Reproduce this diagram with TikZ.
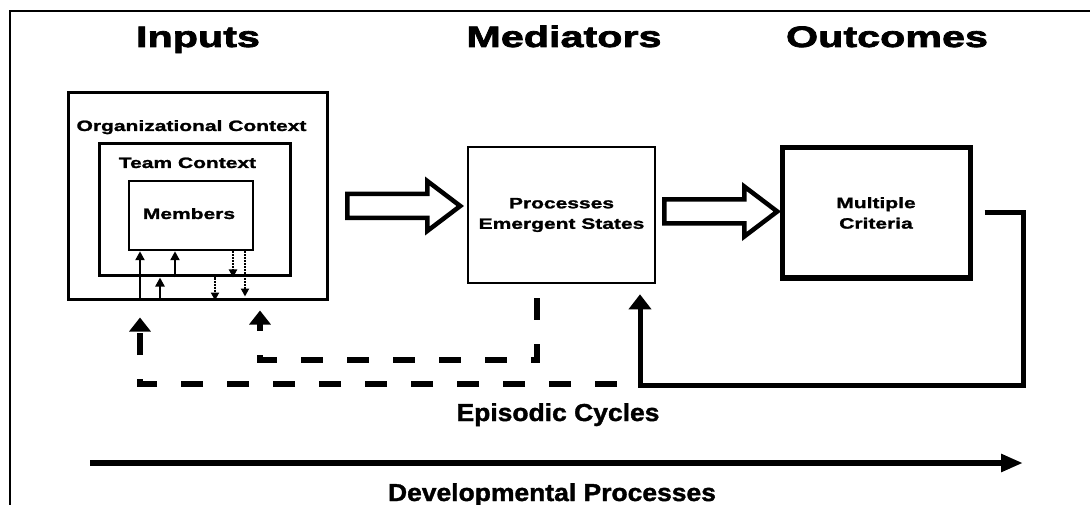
\documentclass[tikz,border=0pt]{standalone}
\usepackage{fontspec}
\usepackage{tikz}
\usetikzlibrary{arrows.meta}

\newfontfamily\wideface{Liberation Sans}[FakeStretch=1.4,FakeBold=1.5]
\newfontfamily\headface{Liberation Sans}[FakeStretch=1.4,FakeBold=2.5]
\newfontfamily\plainface{Liberation Sans}[FakeStretch=1.08,FakeBold=1.5]

\begin{document}
\begin{tikzpicture}[
    x=1pt, y=-1pt,
    box/.style={draw, line width=2.6pt, inner sep=0pt},
    title/.style={font=\headface\bfseries\fontsize{29.5}{34}\selectfont, anchor=base, inner sep=0pt},
    boxtext/.style={font=\wideface\bfseries\fontsize{15}{20.5}\selectfont, align=center},
    bottomtext/.style={font=\plainface\bfseries\fontsize{24.5}{28}\selectfont, anchor=base, inner sep=0pt},
    uparr/.style={line width=2.4pt, -{Triangle[length=9pt,width=9pt]}},
    downarr/.style={line width=2pt, densely dotted, -{Triangle[length=8pt,width=8pt]}},
    loopdash/.style={line width=6pt, dash pattern=on 22pt off 24pt, -{Triangle[length=14pt,width=21pt]}},
    loopline/.style={line width=5pt, line join=miter, -{Triangle[length=15pt,width=22pt]}},
    devline/.style={line width=5.5pt, -{Triangle[length=22pt,width=17pt]}},
    fatarrow/.pic={
        \draw[line width=4.5pt, line join=miter]
            (0,-12) -- (80,-12) -- (80,-25) -- (113,0) -- (80,25) -- (80,12) -- (0,12) -- cycle;
    }
]
    \useasboundingbox (0,0) rectangle (1090,505);
    \draw[line width=1.3pt] (1090,11) -- (10,11) -- (10,505);

    \node[title] (inputs) at (198,47) {Inputs};
    \node[title] (mediators) at (564,47) {Mediators};
    \node[title] (outcomes) at (887,47) {Outcomes};

    \begin{scope}[boxtext]
        \node[box, line width=3pt, minimum width=259pt, minimum height=206pt] (org) at (197.5,196) {};
        \node[box, line width=3pt, minimum width=191pt, minimum height=132pt] (team) at (194.5,210) {};
        \node[box, line width=2.5pt, minimum width=124pt, minimum height=69pt] (mem) at (191,215.5) {};
        \node[anchor=base] (orglbl) at (191.5,131) {Organizational Context};
        \node[anchor=base] (teamlbl) at (187.5,168) {Team Context};
        \node[anchor=base] (memlbl) at (189,219) {Members};

        \node[box, minimum width=187pt, minimum height=136pt] (proc) at (561.5,215) {Processes\\Emergent States};
        \node[box, line width=5pt, minimum width=188pt, minimum height=130pt] (crit) at (876,213) {Multiple\\Criteria};
    \end{scope}

    \foreach \xx [count=\i] in {140, 160, 175, 215, 233, 245} {
        \coordinate (s\i) at (\xx,0);
    }
    \foreach \s/\from/\to in {s1/org/mem, s2/org/team, s3/team/mem} {
        \draw[uparr] (\s |- \from.south) -- (\s |- \to.south);
    }
    \draw[downarr] (s4 |- team.south) -- (s4 |- org.south);
    \draw[downarr] (s5 |- mem.south) -- (s5 |- team.south);
    \draw[downarr, shorten >=4pt] (s6 |- mem.south) -- (s6 |- org.south);

    \pic (fatA) at (347.25,206) {fatarrow};
    \pic (fatB) at (664.25,211.5) {fatarrow};

    \coordinate (loopcorner) at (1023,385);
    \draw[loopline, shorten <=12pt, shorten >=10pt]
        (crit.east) -| (loopcorner) -| ([xshift=78.5pt]proc.south);

    \coordinate (dashstart) at (617,384);
    \draw[loopdash, shorten >=17pt] (dashstart) -| ([xshift=-57.5pt]org.south);

    \coordinate (dashturn) at (260,360);
    \draw[loopdash, shorten <=14pt, shorten >=10pt]
        ([xshift=-24.5pt]proc.south) |- (dashturn) -- (dashturn |- org.south);

    \node[bottomtext] (episodic) at (558,421) {Episodic Cycles};

    \coordinate (devstart) at (90,463);
    \coordinate (devend) at (1023,463);
    \draw[devline] (devstart) -- (devend);
    \node[bottomtext] (devproc) at (552,501) {Developmental Processes};
\end{tikzpicture}
\end{document}
